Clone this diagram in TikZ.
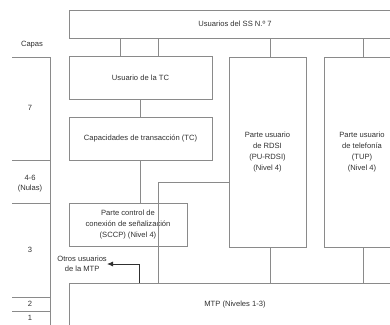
\documentclass[tikz,border=0pt]{standalone}
\usepackage{fontspec}
\setmainfont{Liberation Sans}
\usetikzlibrary{arrows.meta,positioning}

\definecolor{lncol}{HTML}{8A8A8A}
\definecolor{txtcol}{HTML}{303030}

\begin{document}
\begin{tikzpicture}[
  x=1pt, y=-1pt,
  blk/.style={draw=lncol, line width=0.8pt, inner sep=1pt, align=center, text=txtcol, font=\fontsize{7.6}{11}\selectfont},
  ln/.style={draw=lncol, line width=0.8pt},
  arr/.style={-{Latex[length=6pt,width=5pt]}, line width=0.8pt, draw=txtcol},
  lab/.style={text=txtcol, font=\fontsize{7.6}{10}\selectfont, align=center, inner sep=0pt}
]
\useasboundingbox (0,0) rectangle (390,324);
\clip (0,0) rectangle (390,324);

% Capas
\node[lab] (capas) at (32,45) {Capas};
\draw[ln] (12,57) -- (50,57) -- (50,330);
\foreach \y in {160,203,297,311}
  \draw[ln] (12,\y) -- (50,\y);
\node[lab] (c7) at (30,108) {7};
\node[lab] (c46) at (30,184) {4-6\\(Nulas)};
\node[lab] (c3) at (30,250) {3};
\node[lab] (c2) at (30,304) {2};
\node[lab] (c1) at (30,318) {1};

% Bloques
\node[blk, minimum width=332pt, minimum height=28pt] (usr) at (235,24) {Usuarios del SS N.º 7};
\node[blk, minimum width=143pt, minimum height=43pt] (utc) at (140.5,77.5) {Usuario de la TC};
\node[blk, minimum width=143pt, minimum height=43pt] (tc) at (140.5,138.5) {Capacidades de transacción (TC)};
\node[blk, minimum width=77pt, minimum height=190pt] (rdsi) at (267.5,152) {Parte usuario\\de RDSI\\(PU-RDSI)\\(Nivel 4)};
\node[blk, minimum width=76pt, minimum height=190pt] (tup) at (362,152) {Parte usuario\\de telefonía\\(TUP)\\(Nivel 4)};
\node[blk, minimum width=118pt, minimum height=43pt] (sccp) at (128,224.5) {Parte control de\\conexión de señalización\\(SCCP) (Nivel 4)};
\node[blk, minimum width=332pt, minimum height=44pt] (mtp) at (235,305) {MTP (Niveles 1-3)};
\node[lab, anchor=east] (otros) at (107,264) {Otros usuarios\\de la MTP};

% Conexiones
\draw[ln] (usr.south -| 120,0) -- (utc.north -| 120,0);
\draw[ln] (usr.south -| 158,0) -- (utc.north -| 158,0);
\draw[ln] (usr.south -| 270,0) -- (rdsi.north -| 270,0);
\draw[ln] (usr.south -| 363,0) -- (tup.north -| 363,0);
\draw[ln] (utc) -- (tc);
\draw[ln] (tc.south) -- (sccp.north -| tc.south);
\draw[ln] (rdsi.west |- 0,182) -| (mtp.north -| 158,0);
\draw[ln] (rdsi.south -| 270,0) -- (mtp.north -| 270,0);
\draw[ln] (tup.south -| 363,0) -- (mtp.north -| 363,0);
\draw[arr] (mtp.north -| 139,0) |- (otros.east);

\end{tikzpicture}
\end{document}
